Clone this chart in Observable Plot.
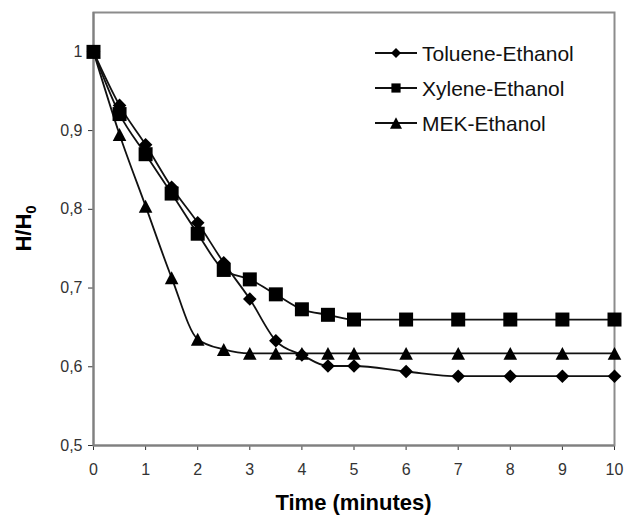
<!DOCTYPE html>
<html><head><meta charset="utf-8">
<script src="https://cdn.jsdelivr.net/npm/d3@7"></script>
<script src="https://cdn.jsdelivr.net/npm/@observablehq/plot@0.6"></script>
<style>
body{margin:0;background:#fff;}
#chart{width:630px;height:515px;}
</style></head>
<body><div id="chart"></div>
<script>
const times = [0, 0.5, 1, 1.5, 2, 2.5, 3, 3.5, 4, 4.5, 5, 6, 7, 8, 9, 10];
const toluene = [1.0, 0.932, 0.882, 0.828, 0.783, 0.732, 0.686, 0.633, 0.615, 0.601, 0.601, 0.594, 0.588, 0.588, 0.588, 0.588];
const xylene = [1.0, 0.921, 0.870, 0.820, 0.769, 0.723, 0.711, 0.692, 0.673, 0.666, 0.660, 0.660, 0.660, 0.660, 0.660, 0.660];
const mek = [1.0, 0.895, 0.804, 0.713, 0.635, 0.622, 0.617, 0.617, 0.617, 0.617, 0.617, 0.617, 0.617, 0.617, 0.617, 0.617];
const seriesNames = ["Toluene-Ethanol", "Xylene-Ethanol", "MEK-Ethanol"];
const xTicks = [0, 1, 2, 3, 4, 5, 6, 7, 8, 9, 10];
const yTicks = [0.5, 0.6, 0.7, 0.8, 0.9, 1];
const xTitle = "Time (minutes)";

// custom marker shapes (size = r*r*PI, so h = r)
const diamondSym = {draw(ctx, size){const h=Math.sqrt(size/Math.PI); ctx.moveTo(0,-h); ctx.lineTo(h,0); ctx.lineTo(0,h); ctx.lineTo(-h,0); ctx.closePath();}};
const squareSym = {draw(ctx, size){const h=Math.sqrt(size/Math.PI); ctx.rect(-h,-h,2*h,2*h);}};
const triangleSym = {draw(ctx, size){const h=Math.sqrt(size/Math.PI); ctx.moveTo(0,-0.95*h); ctx.lineTo(h,0.95*h); ctx.lineTo(-h,0.95*h); ctx.closePath();}};
const symbols = [diamondSym, squareSym, triangleSym];
const radii = [6.8, 7, 6.8];
const legendRadii = [5, 4.6, 6];

const seriesValues = [toluene, xylene, mek];
const data = seriesValues.flatMap((vals, i) => vals.map((v, j) => ({t: times[j], v, s: seriesNames[i]})));

const W = 630, H = 515, mL = 93, mR = 16, mT = 12, mB = 70;
const fmtY = d => d === 1 ? "1" : String(d).replace(".", ",");

const marks = [
  Plot.frame({stroke: "#8c8c8c", strokeWidth: 2}),
  Plot.ruleX([0], {stroke: "#808080", strokeWidth: 2}),
  Plot.ruleY([0.5], {stroke: "#808080", strokeWidth: 2})
];
seriesNames.forEach((name, i) => {
  const sub = data.filter(d => d.s === name);
  marks.push(Plot.line(sub, {x: "t", y: "v", stroke: "#111", strokeWidth: 1.8, curve: "monotone-x"}));
});
seriesNames.forEach((name, i) => {
  const sub = data.filter(d => d.s === name);
  marks.push(Plot.dot(sub, {x: "t", y: "v", symbol: () => name, r: radii[i], fill: "#000", stroke: "none"}));
});

const plot = Plot.plot({
  width: W, height: H,
  marginLeft: mL, marginRight: mR, marginTop: mT, marginBottom: mB,
  style: {fontFamily: "'Liberation Sans', Arial, sans-serif", fontSize: "16px", color: "#333", background: "white"},
  x: {domain: [0, 10], ticks: xTicks, tickSize: 5, tickPadding: 13, tickFormat: d => String(d), label: null},
  y: {domain: [0.5, 1.05], ticks: yTicks, tickSize: 5, tickPadding: 6, tickFormat: fmtY, label: null},
  symbol: {domain: seriesNames, range: symbols},
  marks
});
document.getElementById("chart").appendChild(plot);

const svg = d3.select(plot);
svg.selectAll("[aria-label$='axis'] .tick line, [aria-label$='axis'] path").attr("stroke", "#808080");
// axis titles
svg.append("text")
  .attr("x", (mL + W - mR) / 2).attr("y", 510)
  .attr("text-anchor", "middle")
  .attr("font-family", "'Liberation Sans', Arial, sans-serif")
  .attr("font-size", 22).attr("font-weight", "bold").attr("fill", "#000")
  .text(xTitle);
const yt = svg.append("text")
  .attr("transform", `translate(31,${(mT + H - mB) / 2}) rotate(-90)`)
  .attr("text-anchor", "middle")
  .attr("font-family", "'Liberation Sans', Arial, sans-serif")
  .attr("font-size", 22).attr("font-weight", "bold").attr("fill", "#000");
yt.append("tspan").text("H/H");
yt.append("tspan").attr("font-size", 15).attr("dy", 5).text("0");

// legend
const lg = svg.append("g").attr("transform", "translate(375,53)");
seriesNames.forEach((name, i) => {
  const row = lg.append("g").attr("transform", `translate(0,${i * 35})`);
  row.append("line").attr("x1", 0).attr("x2", 42).attr("stroke", "#111").attr("stroke-width", 1.8);
  row.append("path").attr("transform", "translate(21,0)")
    .attr("d", d3.symbol(symbols[i], Math.PI * legendRadii[i] ** 2)()).attr("fill", "#000");
  row.append("text").attr("x", 47).attr("dy", "0.36em").attr("text-anchor", "start")
    .attr("font-family", "'Liberation Sans', Arial, sans-serif")
    .attr("font-size", 21).attr("fill", "#111").text(name);
});
</script>
</body></html>
